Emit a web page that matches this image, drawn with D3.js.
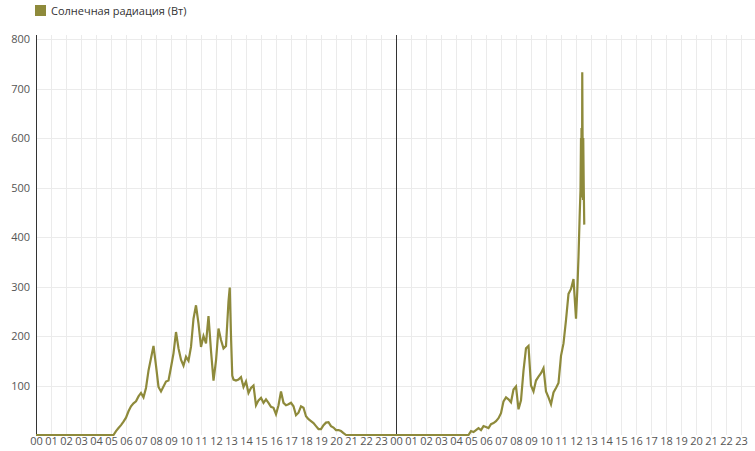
<!DOCTYPE html>
<html><head><meta charset="utf-8">
<script src="https://cdn.jsdelivr.net/npm/d3@7"></script>
<style>
html,body{margin:0;padding:0;background:#fff;}
svg{display:block;font-family:"Open Sans",sans-serif;}
</style></head>
<body><svg id="c" width="755" height="451"></svg>
<script>
// ---- data ----
const seriesName = "Солнечная радиация (Вт)";
const hourLabels = ["00","01","02","03","04","05","06","07","08","09","10","11","12","13","14","15","16","17","18","19","20","21","22","23"];
const yTicks = [100,200,300,400,500,600,700,800];
// day 1 (times HH:MM, watts)
const day1Time = ["00:00","05:10","05:20","05:30","05:40","05:50","06:00","06:10","06:20","06:30","06:40","06:50","07:00","07:10","07:20","07:30","07:40","07:50","08:00","08:10","08:20","08:30","08:40","08:50","09:00","09:10","09:20","09:30","09:40","09:50","10:00","10:10","10:20","10:30","10:40","10:50","11:00","11:10","11:20","11:30","11:40","11:50","12:00","12:10","12:20","12:30","12:40","12:50","12:55","13:00","13:05","13:10","13:20","13:30","13:40","13:50","14:00","14:10","14:20","14:30","14:40","14:50","15:00","15:10","15:20","15:30","15:40","15:50","16:00","16:10","16:20","16:30","16:40","16:50","17:00","17:10","17:20","17:30","17:40","17:50","18:00","18:10","18:20","18:30","18:40","18:50","19:00","19:10","19:20","19:30","19:40","19:50","20:00","20:10","20:20","20:30","20:40"];
const day1Value = [0,0,8,14,20,27,35,48,58,64,68,78,85,76,95,130,155,180,140,97,88,98,108,110,137,165,208,175,152,140,158,150,178,235,262,225,178,200,185,240,170,110,150,215,192,175,180,270,298,200,120,112,110,112,117,97,108,85,95,100,60,70,75,65,72,65,57,55,42,60,88,65,60,62,65,58,40,45,58,55,38,32,28,24,18,12,12,20,25,26,18,15,10,10,8,4,0];
// day 2
const day2Time = ["00:00","04:50","05:00","05:10","05:20","05:30","05:40","05:50","06:00","06:10","06:20","06:30","06:40","06:50","07:00","07:10","07:20","07:30","07:40","07:50","08:00","08:10","08:20","08:30","08:40","08:50","09:00","09:10","09:20","09:30","09:40","09:50","10:00","10:10","10:20","10:30","10:40","10:50","11:00","11:10","11:20","11:30","11:40","11:50","12:00","12:05","12:10","12:15","12:18","12:20","12:21","12:22","12:24","12:25","12:26","12:28","12:29","12:31","12:33"];
const day2Value = [0,0,8,6,10,14,10,18,16,14,22,24,28,34,44,68,76,72,66,92,98,52,70,130,175,180,100,88,110,118,125,135,88,76,62,86,95,105,160,185,232,285,295,315,235,290,360,448,495,600,500,620,480,733,630,475,600,500,425];

// ---- build ----
const toH = (t, day) => { const [h,m] = t.split(":").map(Number); return day*24 + h + m/60; };
const pts = day1Time.map((t,i)=>({h:toH(t,0), v:day1Value[i]}))
  .concat([{h:24, v:0}])
  .concat(day2Time.map((t,i)=>({h:toH(t,1), v:day2Value[i]})));

const svg = d3.select("#c");
const x = d3.scaleLinear().domain([0,48]).range([36,756]);
const y = d3.scaleLinear().domain([0,800]).range([435,39]);

// grid
const g = svg.append("g");
g.selectAll(".vg").data(d3.range(0,48)).join("line")
  .attr("x1",d=>x(d)+0.5).attr("x2",d=>x(d)+0.5).attr("y1",35).attr("y2",435)
  .attr("stroke","#ebebeb").attr("stroke-width",1);
g.selectAll(".hg").data(yTicks).join("line")
  .attr("x1",36).attr("x2",755).attr("y1",d=>Math.round(y(d))+0.5).attr("y2",d=>Math.round(y(d))+0.5)
  .attr("stroke","#ebebeb").attr("stroke-width",1);

// y axis
const yAxis = d3.axisLeft(y).tickValues([0].concat(yTicks)).tickSize(0).tickPadding(6);
const ya = svg.append("g").attr("transform","translate(36,0)").call(yAxis);
ya.select(".domain").remove();
ya.selectAll("text").filter(d=>d===0).remove();
ya.selectAll("text").attr("fill","#555").style("font-size","11px").style("font-family","Open Sans");

// x axis labels
const xAxis = d3.axisBottom(x).tickValues(d3.range(0,48)).tickSize(0).tickPadding(2)
  .tickFormat(d=>hourLabels[d%24]);
const xa = svg.append("g").attr("transform","translate(0,435)").call(xAxis);
xa.select(".domain").remove();
xa.selectAll("text").attr("fill","#555").style("font-size","11px").style("font-family","Open Sans");

// axis lines
svg.append("line").attr("x1",36.5).attr("x2",36.5).attr("y1",35).attr("y2",435).attr("stroke","#333");
svg.append("line").attr("x1",x(24)+0.5).attr("x2",x(24)+0.5).attr("y1",35).attr("y2",435).attr("stroke","#333");

// line
const line = d3.line().x(d=>x(d.h)).y(d=>y(d.v));
svg.append("path").datum(pts).attr("d",line)
  .attr("fill","none").attr("stroke","#8e8a3b").attr("stroke-width",2.2).attr("stroke-linejoin","miter");

// legend
svg.append("rect").attr("x",35).attr("y",5).attr("width",11).attr("height",11).attr("fill","#8e8a3b");
svg.append("text").attr("x",51).attr("y",15).text(seriesName)
  .attr("fill","#333").style("font-size","11px").style("font-family","Open Sans");
</script></body></html>
